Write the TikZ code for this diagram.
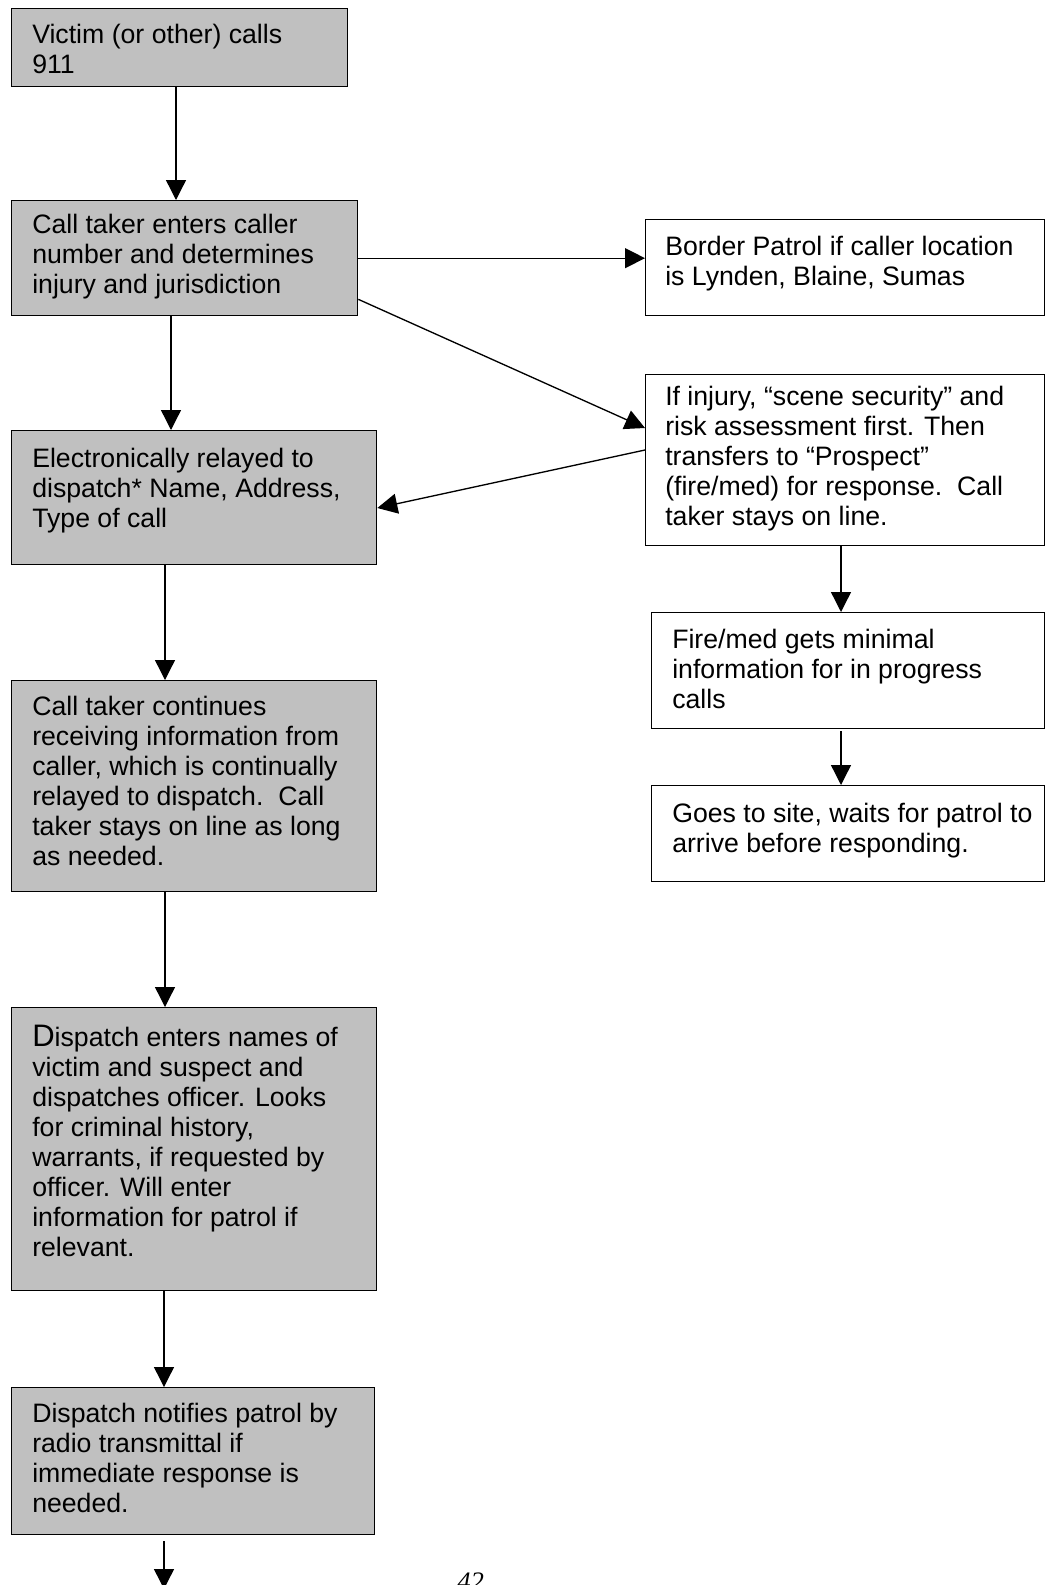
\documentclass[tikz,border=0pt]{standalone}
\usepackage{fontspec}
\setmainfont{Liberation Sans}
\newfontfamily\pagefont{Liberation Serif}
\usetikzlibrary{arrows.meta}
\definecolor{boxgray}{RGB}{192,192,192}
\begin{document}
\begin{tikzpicture}[x=0.75pt,y=-0.75pt,
  gbox/.style={draw=black,line width=1pt,fill=boxgray,inner sep=0pt,anchor=north west},
  wbox/.style={draw=black,line width=1pt,fill=white,inner sep=0pt,anchor=north west},
  txt/.style={inner sep=0pt,anchor=north west,align=left,font=\fontsize{20}{22.5}\selectfont},
  arr/.style={line width=1pt,-{Triangle[length=15pt,width=15pt]}}]
\useasboundingbox (0,0) rectangle (1045,1585);
% left column
\node[gbox,minimum width=252pt,minimum height=58.5pt] (b1) at (11,8) {};
\node[txt] (t1) at (32,22) {\strut Victim (or other) calls\\911};
\node[gbox,minimum width=259.5pt,minimum height=86.25pt] (b2) at (11,200) {};
\node[txt] (t2) at (32,212) {\strut Call taker enters caller\\number and determines\\injury and jurisdiction};
\node[gbox,minimum width=273.75pt,minimum height=100.5pt] (b3) at (11,430) {};
\node[txt] (t3) at (32,446) {\strut Electronically relayed to\\dispatch* Name, Address,\\Type of call};
\node[gbox,minimum width=273.75pt,minimum height=158.25pt] (b4) at (11,680) {};
\node[txt] (t4) at (32,694) {\strut Call taker continues\\receiving information from\\caller, which is continually\\relayed to dispatch.\ \ Call\\taker stays on line as long\\as needed.};
\node[gbox,minimum width=273.75pt,minimum height=212.25pt] (b5) at (11,1007) {};
\node[txt] (t5) at (32,1025) {\strut{\fontsize{23.3}{22.5}\selectfont D}ispatch enters names of\\victim and suspect and\\dispatches officer. Looks\\for criminal history,\\warrants, if requested by\\officer. Will enter\\information for patrol if\\relevant.};
\node[gbox,minimum width=272.25pt,minimum height=110.25pt] (b6) at (11,1387) {};
\node[txt] (t6) at (32,1401) {\strut Dispatch notifies patrol by\\radio transmittal if\\immediate response is\\needed.};
% right column
\node[wbox,minimum width=299.25pt,minimum height=72pt] (bp) at (645,219) {};
\node[txt] (tbp) at (665,234) {\strut Border Patrol if caller location\\is Lynden, Blaine, Sumas};
\node[wbox,minimum width=299.25pt,minimum height=128.25pt] (inj) at (645,374) {};
\node[txt] (tinj) at (665,384) {\strut If injury, “scene security” and\\risk assessment first. Then\\transfers to “Prospect”\\(fire/med) for response.\ \ Call\\taker stays on line.};
\node[wbox,minimum width=294.75pt,minimum height=87pt] (fm) at (651,612) {};
\node[txt] (tfm) at (672,627) {\strut Fire/med gets minimal\\information for in progress\\calls};
\node[wbox,minimum width=294.75pt,minimum height=72pt] (gs) at (651,785) {};
\node[txt] (tgs) at (672,801) {\strut Goes to site, waits for patrol to\\arrive before responding.};
% page number
\node[anchor=base west,inner sep=0pt,font=\pagefont\itshape\fontsize{20}{24}\selectfont] (pg) at (457,1590) {42};
% connectors
\draw[arr] ([xshift=123.75pt]b1.south west) -- ([xshift=123.75pt]b2.north west);
\draw[arr] ([xshift=120pt]b2.south west) -- ([xshift=120pt]b3.north west);
\draw[arr] ([xshift=115.5pt]b3.south west) -- ([xshift=115.5pt]b4.north west);
\draw[arr] ([xshift=115.5pt]b4.south west) -- ([xshift=115.5pt]b5.north west);
\draw[arr] ([xshift=114.75pt]b5.south west) -- ([xshift=114.75pt]b6.north west);
\coordinate (end) at (164,1589);
\draw[arr] ([yshift=-4.5pt]b6.south -| end) -- (end);
\draw[arr] (b2.east) -- (b2.east -| bp.west);
\draw[arr] ([yshift=12.75pt]b2.south east) -- ([yshift=-40.5pt]inj.north west);
\draw[arr] ([yshift=-57pt]inj.north west) -- ([yshift=-58.5pt]b3.north east);
\draw[arr] ([xshift=147pt]inj.south west) -- ([xshift=142.5pt]fm.north west);
\draw[arr] ([xshift=142.5pt,yshift=-1.5pt]fm.south west) -- ([xshift=142.5pt]gs.north west);
\end{tikzpicture}
\end{document}
